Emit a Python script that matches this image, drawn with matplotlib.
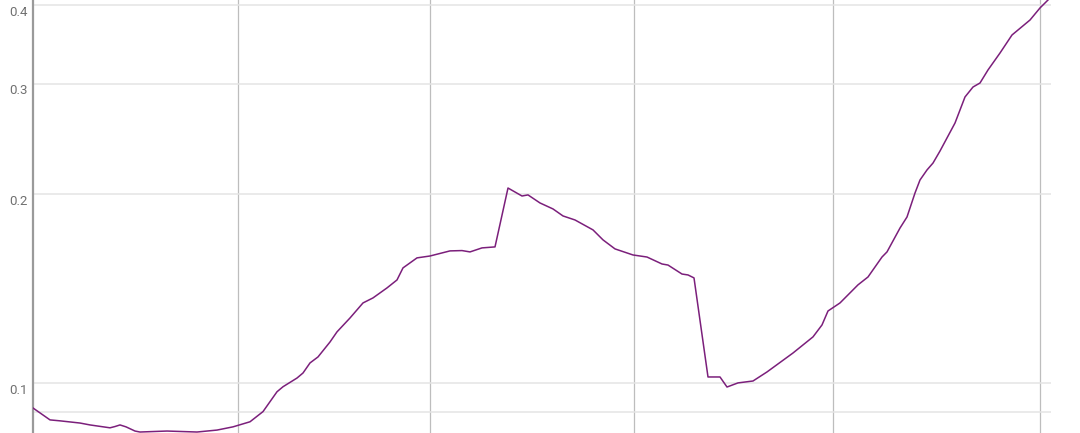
import matplotlib as mpl
import matplotlib.pyplot as plt
from matplotlib.transforms import ScaledTranslation

mpl.rcParams.update({"font.family": ["Roboto", "DejaVu Sans"]})

# sample position (arbitrary time units) and value
t = [0, 17, 27, 47, 57, 77, 82, 87, 93, 102, 107, 134, 164, 184, 200, 217,
     230, 244, 250, 264, 270, 277, 285, 297, 304, 317, 330, 340, 354, 364,
     370, 374, 384, 397, 417, 429, 437, 449, 462, 475, 489, 495, 507, 520,
     530, 542, 560, 570, 582, 600, 614, 629, 635, 649, 655, 661, 675, 687,
     694, 705, 720, 734, 760, 780, 789, 795, 807, 825, 835, 849, 854, 867,
     874, 882, 887, 894, 900, 907, 922, 932, 940, 947, 955, 967, 979, 997,
     1007, 1015]
value = [0.0914, 0.0875, 0.0872, 0.0865, 0.0859, 0.0850, 0.0854, 0.0859,
         0.0853, 0.0840, 0.0837, 0.0840, 0.0837, 0.0843, 0.0853, 0.0869,
         0.0902, 0.0970, 0.0988, 0.1020, 0.1039, 0.1078, 0.1102, 0.1164,
         0.1208, 0.1271, 0.1343, 0.1368, 0.1419, 0.1461, 0.1527, 0.1543,
         0.1584, 0.1595, 0.1625, 0.1627, 0.1619, 0.1643, 0.1649, 0.2046,
         0.1987, 0.1995, 0.1937, 0.1895, 0.1847, 0.1820, 0.1755, 0.1692,
         0.1637, 0.1601, 0.1589, 0.1549, 0.1543, 0.1493, 0.1488, 0.1472,
         0.1024, 0.1024, 0.0987, 0.1002, 0.1009, 0.1043, 0.1118, 0.1186,
         0.1239, 0.1304, 0.1343, 0.1435, 0.1477, 0.1589, 0.1619, 0.1767,
         0.1840, 0.2009, 0.2107, 0.2186, 0.2242, 0.2343, 0.2596, 0.2856,
         0.2962, 0.3006, 0.3153, 0.3355, 0.3584, 0.3786, 0.3957, 0.4074]

x_grid = [205, 397.5, 601.5, 800, 1006.5]
y_ticks = [0.09, 0.1, 0.2, 0.3, 0.4]
y_labels = ["", "0.1", "0.2", "0.3", "0.4"]

fig = plt.figure(figsize=(10.8, 4.33), dpi=100)
ax = fig.add_axes([33 / 1080, 0, 1018 / 1080, 1])

ax.plot(t, value, color="#7b1f7b", lw=1.1, zorder=3)

ax.set_yscale("log")
ax.set_ylim(0.0834, 0.4074)
ax.set_xlim(0, 1018)
ax.set_yticks(y_ticks, labels=y_labels)
ax.minorticks_off()
ax.set_xticks(x_grid)
ax.set_xticklabels([])

ax.grid(axis="y", color="#e4e4e4", lw=1.1, zorder=0)
ax.grid(axis="x", color="#bdbdbd", lw=0.9, zorder=0)
ax.tick_params(axis="y", length=0, pad=4, labelsize=9.5, labelcolor="#707070")
ax.tick_params(axis="x", length=0)

for s in ["top", "right", "bottom"]:
    ax.spines[s].set_visible(False)
ax.spines["left"].set_color("#9a9a9a")
ax.spines["left"].set_linewidth(1.6)

# labels sit a little below their grid lines in the reference
shift = ScaledTranslation(0, -4 / 72, fig.dpi_scale_trans)
for lab in ax.get_yticklabels():
    lab.set_transform(lab.get_transform() + shift)

fig.savefig("out.png", dpi=100, facecolor="white")
